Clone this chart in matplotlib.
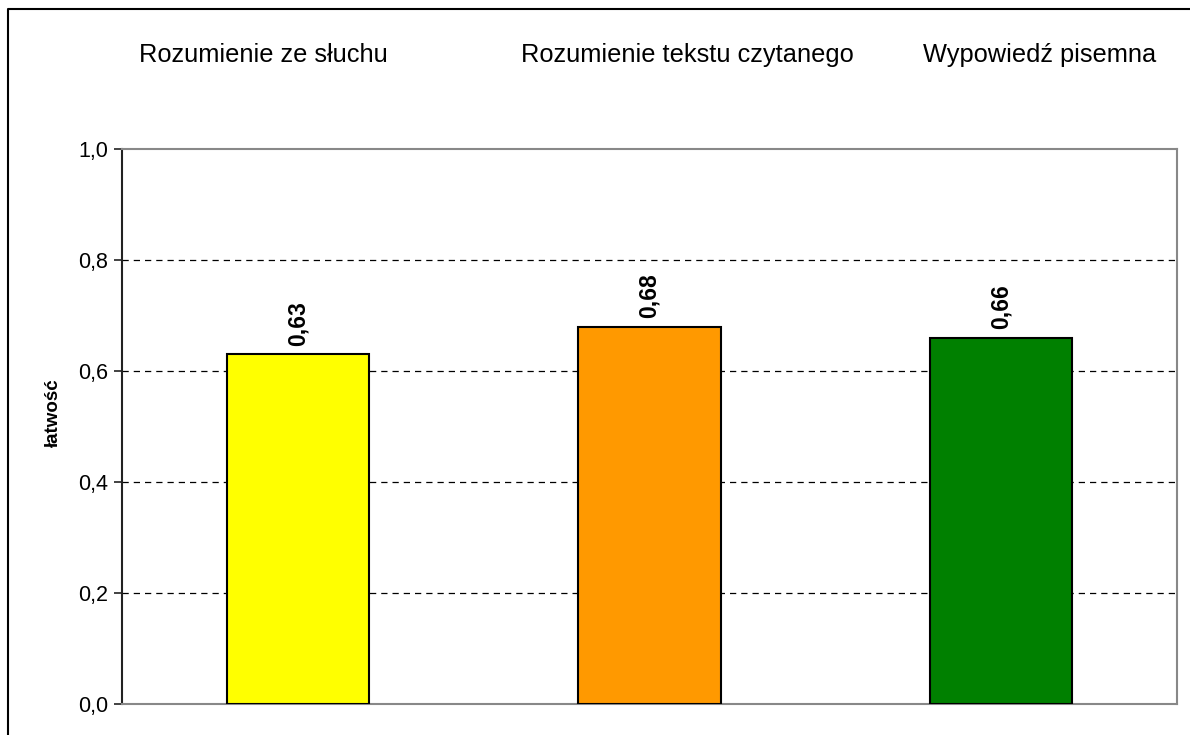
import matplotlib
matplotlib.use("Agg")
import matplotlib.pyplot as plt
from matplotlib.lines import Line2D

plt.rcParams['font.family'] = ['Liberation Sans', 'DejaVu Sans']

categories = ["Rozumienie ze słuchu", "Rozumienie tekstu czytanego", "Wypowiedź pisemna"]
values = [0.63, 0.68, 0.66]
value_labels = ["0,63", "0,68", "0,66"]
colors = ["#FFFF00", "#FF9900", "#008000"]
yticks = [0.0, 0.2, 0.4, 0.6, 0.8, 1.0]
ytick_labels = ["0,0", "0,2", "0,4", "0,6", "0,8", "1,0"]
ylabel = "łatwość"

W, H = 1190, 735
fig = plt.figure(figsize=(W / 100, H / 100), dpi=100)
fig.patch.set_facecolor("white")

# outer chart frame (partly cropped)
fig.add_artist(Line2D([8 / W, 8 / W, 1.01], [-0.01, 1 - 9 / H, 1 - 9 / H],
                      transform=fig.transFigure, color="black", lw=1.5))

left, right, top, bottom = 122, 1177, 149, 704
ax = fig.add_axes([left / W, 1 - bottom / H, (right - left) / W, (bottom - top) / H])

x = list(range(len(categories)))
ax.bar(x, values, width=0.404, color=colors, edgecolor="black", linewidth=1.5, zorder=3)
for xi, v, lab in zip(x, values, value_labels):
    ax.annotate(lab, (xi, v), xytext=(0, 6), textcoords="offset points",
                rotation=90, ha="center", va="bottom", fontsize=16.5, fontweight="bold")

ax.set_xlim(-0.5, 2.5)
ax.set_ylim(0, 1.0)
ax.set_yticks(yticks)
ax.set_yticklabels(ytick_labels, fontsize=15.5)
ax.set_xticks([])
for yv in yticks[1:-1]:
    ax.axhline(yv, color="black", lw=0.9, linestyle=(0, (5, 4)), zorder=1)

for s in ["top", "right", "bottom"]:
    ax.spines[s].set_color("#888888")
    ax.spines[s].set_linewidth(1.5)
ax.spines["left"].set_color("#222222")
ax.spines["left"].set_linewidth(1.5)
ax.tick_params(axis="y", length=6, width=1.2, color="#222222", pad=4)

fig.text(53 / W, 1 - 413 / H, ylabel, rotation=90, ha="center", va="center",
         fontsize=13.5, fontweight="bold")

cat_x = [263, 687, 1040]
for cx, cat in zip(cat_x, categories):
    fig.text(cx / W, 1 - 62 / H, cat, ha="center", va="baseline", fontsize=18.3)

fig.savefig("out.png", dpi=100)
